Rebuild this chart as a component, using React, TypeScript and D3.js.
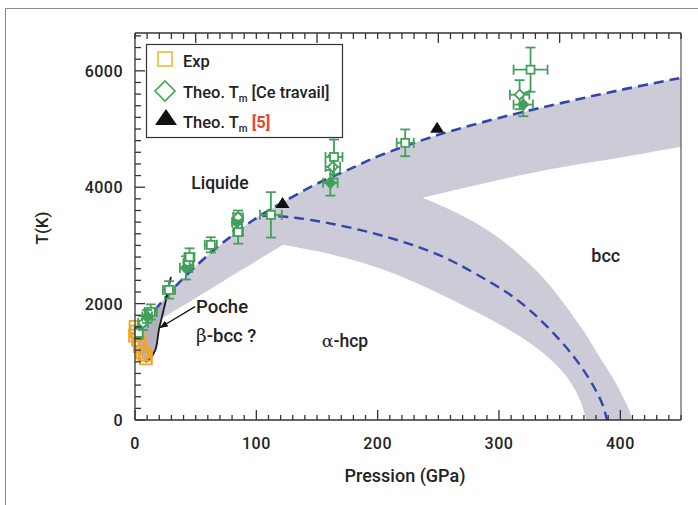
import * as d3 from 'd3';

// melting curve (dashed blue), [P GPa, T K]
const MELT: [number, number][] = [
  [0, 1450], [10, 1720], [20, 1980], [30, 2220], [40, 2440], [60, 2830], [80, 3170],
  [100, 3470], [120, 3720], [150, 4060], [180, 4340], [200, 4530], [250, 4900],
  [300, 5190], [350, 5440], [400, 5670], [450, 5880],
];
// hcp-bcc boundary (dashed blue)
const HCP_BCC: [number, number][] = [
  [105, 3510], [130, 3500], [177, 3320], [220, 3080], [251, 2840], [268, 2665], [309, 2184],
  [330, 1810], [348, 1430], [362, 1090], [373, 760], [381, 470], [386, 250], [389, 0],
];
// grey uncertainty band outline, after the melting curve (clockwise)
const MELT_LOW: [number, number][] = [[450, 4695], [400, 4510], [340, 4300], [280, 4030], [237, 3818]];
const TRANS_OUT: [number, number][] = [
  [237, 3818], [265, 3560], [295, 3200], [320, 2780], [340, 2360], [355, 1960], [370, 1520], [383, 1083],
  [395, 680], [403, 360], [408, 130], [409.5, 0],
];
const TRANS_IN: [number, number][] = [
  [372, 0], [367, 330], [358, 680], [343, 1030], [320, 1400], [290, 1760], [250, 2180],
  [205, 2580], [163, 2840], [122, 3010],
];
const LOW_EDGE: [number, number][] = [[122, 3010], [80, 2480], [43.5, 2012], [24, 1771], [10, 1560], [3, 1440], [0, 1420]];
// beta-bcc pocket black curve
const POCKET: [number, number][] = [
  [8.5, 1000], [11.5, 1032], [15, 1130], [17.3, 1238], [19.7, 1548], [23, 1840], [25.5, 2063], [29.6, 2459],
];
// green theory points: P, T, dP, dT, kind
const THEO: [number, number, number, number, string][] = [
  [3, 1496, 3, 100, 'square'], [6.6, 1668, 4, 120, 'diamond'], [13, 1857, 5, 130, 'square'],
  [10, 1780, 4, 110, 'filled'], [28, 2235, 5, 150, 'square'], [42, 2614, 5, 200, 'filled'],
  [44, 2700, 4, 150, 'diamond'], [45, 2800, 4, 150, 'square'], [62.5, 3010, 5, 130, 'square'],
  [84, 3400, 4, 150, 'filled'], [85, 3480, 4, 120, 'diamond'], [85, 3230, 4, 200, 'square'],
  [112, 3525, 9, 390, 'square'], [161, 4075, 6, 220, 'filled'], [163, 4350, 6, 200, 'diamond'],
  [164, 4520, 7, 300, 'square'], [222.7, 4763, 7, 230, 'square'], [320, 5420, 8, 200, 'filled'],
  [317, 5590, 8, 250, 'diamond'], [326, 6020, 14, 380, 'square'],
];
// experimental points (orange)
const EXP: [number, number][] = [
  [0.5, 1600], [1.5, 1520], [0, 1450], [2.5, 1380], [4, 1270], [6, 1160], [9, 1060], [8, 1120],
];
// triangles [5]
const TRI: [number, number][] = [[121.6, 3730], [249, 5020]];

const X_TICKS = [0, 100, 200, 300, 400];
const Y_TICKS = [0, 2000, 4000, 6000];

const FONT = 'Roboto, "DejaVu Sans", sans-serif';
const GREEN = '#43a05a';
const BLUE = '#3346a8';
const BAND = '#cecbd8';

export default function App() {
  const x = d3.scaleLinear().domain([0, 450]).range([135, 681]);
  const y = d3.scaleLinear().domain([0, 6650]).range([420, 33]);
  const smooth = d3.line<[number, number]>().x(d => x(d[0])).y(d => y(d[1])).curve(d3.curveCatmullRom);
  const basis = d3.line<[number, number]>().x(d => x(d[0])).y(d => y(d[1])).curve(d3.curveBasis);
  const straight = d3.line<[number, number]>().x(d => x(d[0])).y(d => y(d[1]));

  // join smooth pieces into one outline, corners kept sharp
  const cont = (pts: [number, number][]) => (smooth(pts) || '').replace(/^M/, 'L');
  const bandPath = (smooth(MELT) || '') + cont(MELT_LOW) + cont(TRANS_OUT) + cont(TRANS_IN) + cont(LOW_EDGE) + 'Z';

  const pocketFill: [number, number][] = [...POCKET.slice(0, 7), [20, 1980], [10, 1720], [3, 1500], [2, 1300], [5, 1100]];

  const minorX = d3.range(0, 451, 10);
  const minorY = d3.range(0, 6651, 200);
  const topMajor = [50, 150, 250, 350];

  const [ax0, ax1] = x.range();
  const [ay0, ay1] = y.range();

  return (
    <div style={{ position: 'absolute', left: 0, top: 0 }}>
      <svg width={698} height={505} style={{ display: 'block', background: '#fff' }}>
        <rect x={5.5} y={8.5} width={800} height={600} fill="none" stroke="#8a8a8a" strokeWidth={1} />

        {/* grey band */}
        <path d={bandPath} fill={BAND} />
        <path d={(straight(pocketFill) || '') + 'Z'} fill="#b3b1be" />

        {/* dashed boundaries */}
        <path d={smooth(MELT) || ''} fill="none" stroke={BLUE} strokeWidth={2.6} strokeDasharray="10,6" />
        <path d={basis(HCP_BCC) || ''} fill="none" stroke={BLUE} strokeWidth={2.4} strokeDasharray="10,6" />
        <path d={smooth(POCKET) || ''} fill="none" stroke="#1a1a1a" strokeWidth={1.8} />

        {/* experimental */}
        {EXP.map((d, i) => (
          <rect key={'e' + i} x={x(d[0]) - 6} y={y(d[1]) - 6} width={12} height={12}
            fill="none" stroke="#f0a52a" strokeWidth={1.8} />
        ))}

        {/* theory points with error bars */}
        {THEO.map((d, i) => {
          const cx = x(d[0]), cy = y(d[1]);
          const xl = x(d[0] - d[2]), xr = x(d[0] + d[2]);
          const yt = y(d[1] + d[3]), yb = y(d[1] - d[3]);
          return (
            <g key={'t' + i} stroke={GREEN} strokeWidth={1.8} fill="none">
              <line x1={cx} x2={cx} y1={yt} y2={yb} />
              <line x1={cx - 5} x2={cx + 5} y1={yt} y2={yt} />
              <line x1={cx - 5} x2={cx + 5} y1={yb} y2={yb} />
              <line x1={xl} x2={xr} y1={cy} y2={cy} />
              <line x1={xl} x2={xl} y1={cy - 5} y2={cy + 5} />
              <line x1={xr} x2={xr} y1={cy - 5} y2={cy + 5} />
              {d[4] === 'square' && <rect x={cx - 4} y={cy - 4} width={8} height={8} fill="#fff" />}
              {d[4] === 'diamond' && <path d={`M${cx},${cy - 5}L${cx + 5},${cy}L${cx},${cy + 5}L${cx - 5},${cy}Z`} fill="#fff" />}
              {d[4] === 'filled' && <path d={`M${cx},${cy - 5}L${cx + 5},${cy}L${cx},${cy + 5}L${cx - 5},${cy}Z`} fill={GREEN} />}
            </g>
          );
        })}

        {TRI.map((d, i) => (
          <path key={'tr' + i} d={`M${x(d[0])},${y(d[1]) - 6}L${x(d[0]) + 7},${y(d[1]) + 5}L${x(d[0]) - 7},${y(d[1]) + 5}Z`} fill="#111" />
        ))}

        {/* arrow to pocket */}
        <defs>
          <marker id="ah" viewBox="0 0 10 10" refX={9} refY={5} markerWidth={7} markerHeight={7} orient="auto">
            <path d="M0,1L10,5L0,9Z" fill="#111" />
          </marker>
        </defs>
        <line x1={x(49.5)} y1={y(1948)} x2={x(20.8)} y2={y(1590)} stroke="#111" strokeWidth={1.2} markerEnd="url(#ah)" />

        {/* axes frame */}
        <g stroke="#333" strokeWidth={1.3}>
          <line x1={ax0} x2={ax1} y1={ay0} y2={ay0} />
          <line x1={ax0} x2={ax1} y1={ay1} y2={ay1} />
          <line x1={ax0} x2={ax0} y1={ay0} y2={ay1} />
          <line x1={ax1} x2={ax1} y1={ay0} y2={ay1} stroke="#666" />
          {minorX.map(v => {
            const major = X_TICKS.includes(v);
            return <line key={'bx' + v} x1={x(v)} x2={x(v)} y1={ay0} y2={ay0 - (major ? 10 : 5)} />;
          })}
          {minorX.map(v => {
            const major = topMajor.includes(v);
            return <line key={'tx' + v} x1={x(v)} x2={x(v)} y1={ay1} y2={ay1 + (major ? 10 : 6)} />;
          })}
          {minorY.map(v => {
            const major = Y_TICKS.includes(v);
            return <line key={'ly' + v} x1={ax0} x2={ax0 + (major ? 10 : 6)} y1={y(v)} y2={y(v)} />;
          })}
        </g>

        <g fontFamily={FONT} fontWeight={500} fontSize={16} fill="#222">
          {X_TICKS.map(v => (
            <text key={'xl' + v} x={x(v)} y={449} textAnchor="middle" letterSpacing={0.5}>{v}</text>
          ))}
          {Y_TICKS.map(v => (
            <text key={'yl' + v} x={123} y={y(v) + 6} textAnchor="end" letterSpacing={0.5}>{v}</text>
          ))}
          <text x={405} y={482} textAnchor="middle" fontSize={18}>Pression (GPa)</text>
          <text transform={`translate(48,${228}) rotate(-90)`} textAnchor="middle" fontSize={17}>T(K)</text>

          <text x={x(70)} y={y(3965)} textAnchor="middle" fontSize={17.5}>Liquide</text>
          <text x={x(50.3)} y={y(1845)} fontSize={18.5}>Poche</text>
          <text x={x(50.3)} y={y(1345)} fontSize={18.5}>
            <tspan fontFamily='"DejaVu Serif", serif' fontWeight={400}>β</tspan>-bcc ?
          </text>
          <text x={x(173)} y={y(1259)} textAnchor="middle" fontSize={17.5}>
            <tspan fontFamily='"DejaVu Serif", serif' fontWeight={400}>α</tspan>-hcp
          </text>
          <text x={x(388)} y={y(2707)} textAnchor="middle" fontSize={18}>bcc</text>
        </g>

        {/* legend */}
        <g fontFamily={FONT} fontWeight={500} fontSize={16.5} fill="#222">
          <rect x={146.5} y={44.5} width={196} height={93} fill="#fff" stroke="#333" strokeWidth={1.2} />
          <rect x={158} y={52} width={14} height={14} fill="none" stroke="#f5b82e" strokeWidth={1.6} />
          <path d="M165,81L175,91L165,101L155,91Z" fill="none" stroke="#3aaa4a" strokeWidth={1.6} />
          <path d="M166,109L177,125L155,125Z" fill="#111" />
          <text x={183} y={67}>Exp</text>
          <text x={183} y={98}>Theo. T<tspan fontSize={10} dy={4}>m</tspan><tspan dy={-4}> [Ce travail]</tspan></text>
          <text x={183} y={128}>Theo. T<tspan fontSize={10} dy={4}>m</tspan><tspan dy={-4}> </tspan><tspan fill="#e8452f" fontWeight={700}>[5]</tspan></text>
        </g>
      </svg>
    </div>
  );
}
